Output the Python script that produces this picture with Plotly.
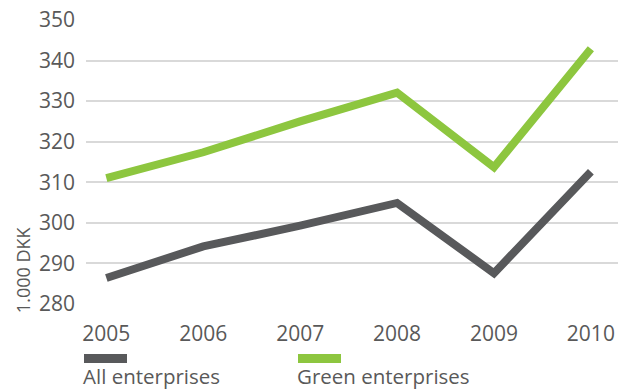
import plotly.graph_objects as go

years = [2005, 2006, 2007, 2008, 2009, 2010]
all_enterprises = [286.4, 294.2, 299.3, 304.9, 287.6, 312.6]
green_enterprises = [311.0, 317.4, 325.0, 332.1, 313.7, 342.9]
y_ticks = [280, 290, 300, 310, 320, 330, 340, 350]

GRAY = "#58595B"
GREEN = "#8DC63F"
TEXT = "#595959"
FONT = "Open Sans"

fig = go.Figure()
fig.add_trace(go.Scatter(x=years, y=all_enterprises, mode="lines",
                         line=dict(color=GRAY, width=8), name="All enterprises",
                         showlegend=False))
fig.add_trace(go.Scatter(x=years, y=green_enterprises, mode="lines",
                         line=dict(color=GREEN, width=8), name="Green enterprises",
                         showlegend=False))

fig.update_layout(
    width=630, height=392,
    margin=dict(l=86, r=12, t=20, b=88),
    paper_bgcolor="white", plot_bgcolor="white",
    font=dict(family=FONT, color=TEXT, size=21),
    xaxis=dict(range=[2004.79, 2010.28], tickvals=years, ticktext=[str(y) for y in years],
               showgrid=False, zeroline=False, showline=False, automargin=False,
               ticks="outside", ticklen=0, ticklabelstandoff=11),
    yaxis=dict(range=[280, 350], tickvals=y_ticks, showgrid=True, automargin=False,
               gridcolor="#D9D9D9", gridwidth=2, zeroline=False, showline=False,
               ticklabelstandoff=10),
)

# rotated unit label
fig.add_annotation(text="1.000 DKK", textangle=-90, xref="paper", yref="paper",
                   x=-0.118, y=0.12, xanchor="center", yanchor="middle",
                   showarrow=False, font=dict(size=18, color=TEXT))

# legend: coloured bars with labels below
legend_items = [("All enterprises", GRAY, 84), ("Green enterprises", GREEN, 298)]
for label, color, px in legend_items:
    fig.add_shape(type="rect", xref="paper", yref="paper",
                  x0=(px - 86) / 532, x1=(px + 43 - 86) / 532,
                  y0=(304 - 363) / 284, y1=(304 - 354) / 284,
                  fillcolor=color, line=dict(width=0))
    fig.add_annotation(text=label, xref="paper", yref="paper",
                       x=(px - 88) / 532, y=(304 - 391) / 284,
                       xanchor="left", yanchor="bottom", showarrow=False,
                       borderpad=0,
                       font=dict(size=20.5, color=TEXT))

fig.write_html("out.html")
